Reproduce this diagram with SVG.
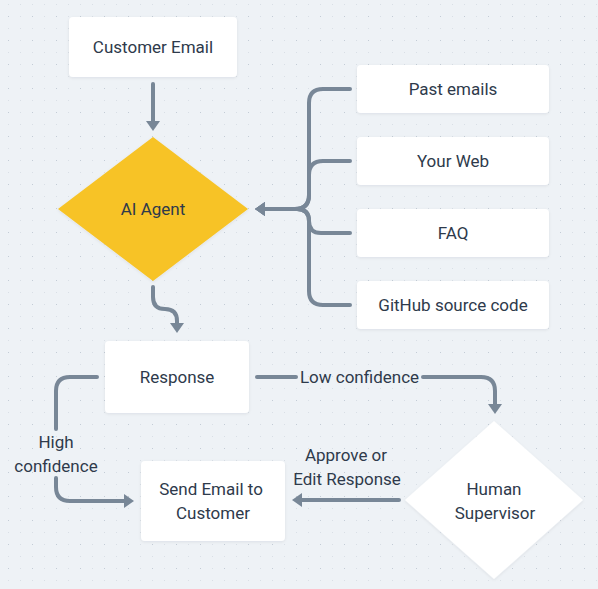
<svg xmlns="http://www.w3.org/2000/svg" width="598" height="589" viewBox="0 0 598 589">
<style>
.t{font-family:Roboto,"Liberation Sans",sans-serif;font-size:17px;fill:#2e3a4b;text-anchor:middle}
.box{fill:#ffffff;filter:url(#sh)}
.c{fill:none;stroke:#788797;stroke-width:4;stroke-linecap:round;stroke-linejoin:round}
.a{marker-end:url(#ah)}
</style>
<defs>
<pattern id="dots" width="24" height="24" patternUnits="userSpaceOnUse">
<rect x="8" y="16" width="1" height="1" fill="#c3ccd6"/>
<rect x="20" y="16" width="1" height="1" fill="#d9dfe6"/>
<rect x="8" y="4" width="1" height="1" fill="#d9dfe6"/>
<rect x="20" y="4" width="1" height="1" fill="#d9dfe6"/>
</pattern>
<filter id="sh" x="-10%" y="-10%" width="120%" height="130%">
<feDropShadow dx="0" dy="1" stdDeviation="1.5" flood-color="#1e293b" flood-opacity="0.08"/>
</filter>
<marker id="ah" viewBox="0 0 10 14" markerWidth="10" markerHeight="14" refX="1" refY="7" markerUnits="userSpaceOnUse" orient="auto">
<path d="M0,0 L10,7 L0,14 Z" fill="#788797"/>
</marker>
</defs>
<rect width="598" height="589" fill="#eef2f6"/>
<rect width="598" height="589" fill="url(#dots)"/>

<g id="connectors">
<path class="c a" d="M153,84 V122"/>
<path class="c a" d="M350,89 H323 Q309,89 309,103 V195 Q309,209 295,209 H264"/>
<path class="c a" d="M350,161 H323 Q309,161 309,175 V195 Q309,209 295,209 H264"/>
<path class="c a" d="M350,233 H321 Q309,233 309,221 Q309,209 297,209 H264"/>
<path class="c a" d="M350,305 H323 Q309,305 309,291 V221 Q309,209 297,209 H264"/>
<path class="c a" d="M153,287 V297 Q153,309 165,309 Q177,309 177,321 V324"/>
<path class="c" d="M257,377 H296"/>
<path class="c a" d="M423,377 H481 Q495,377 495,391 V405"/>
<text class="t" x="359.5" y="383">Low confidence</text>
<path class="c" d="M97,377 H70 Q56,377 56,391 V429"/>
<path class="c a" d="M56,478 V487 Q56,501 70,501 H125"/>
<text class="t" x="56" y="448">High</text>
<text class="t" x="56" y="472">confidence</text>
<path class="c a" d="M399,500 H301"/>
<text class="t" x="346" y="461">Approve or</text>
<text class="t" x="347" y="485">Edit Response</text>
</g>

<g id="customer-email">
<rect class="box" x="69" y="17" width="168" height="60" rx="4"/>
<text class="t" x="153" y="53">Customer Email</text>
</g>
<g id="ai-agent">
<polygon points="153,137 248,209 153,281 58,209" fill="#f7c325" filter="url(#sh)"/>
<text class="t" x="153" y="215">AI Agent</text>
</g>
<g id="past-emails">
<rect class="box" x="357" y="65" width="192" height="48" rx="4"/>
<text class="t" x="453" y="95">Past emails</text>
</g>
<g id="your-web">
<rect class="box" x="357" y="137" width="192" height="48" rx="4"/>
<text class="t" x="453" y="167">Your Web</text>
</g>
<g id="faq">
<rect class="box" x="357" y="209" width="192" height="48" rx="4"/>
<text class="t" x="453" y="239">FAQ</text>
</g>
<g id="github">
<rect class="box" x="357" y="281" width="192" height="48" rx="4"/>
<text class="t" x="453" y="311">GitHub source code</text>
</g>
<g id="response">
<rect class="box" x="105" y="341" width="144" height="72" rx="4"/>
<text class="t" x="177" y="383">Response</text>
</g>
<g id="send-email">
<rect class="box" x="141" y="461" width="144" height="80" rx="4"/>
<text class="t" x="211" y="495">Send Email to</text>
<text class="t" x="213" y="519">Customer</text>
</g>
<g id="human-supervisor">
<polygon points="494,421 583,500 494,579 405,500" fill="#ffffff" filter="url(#sh)"/>
<text class="t" x="494" y="495">Human</text>
<text class="t" x="495" y="519">Supervisor</text>
</g>
</svg>
